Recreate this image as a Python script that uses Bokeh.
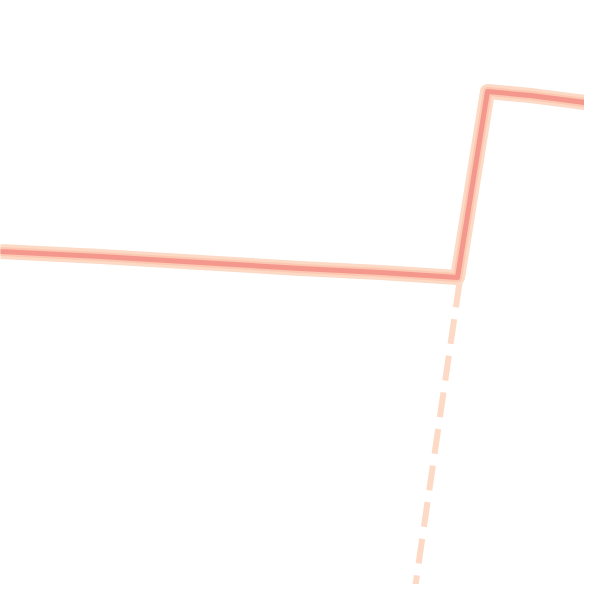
from bokeh.plotting import figure
from bokeh.models import Range1d
from bokeh.embed import file_html
from bokeh.resources import INLINE

# Main series (x position, value)
x_main = [-10, 0, 100, 200, 300, 380, 457, 487, 530, 600, 612]
y_main = [350, 349, 344, 338, 332, 328, 323, 509, 505, 496, 495]

# Dashed drop line
x_drop = [459, 412]
y_drop = [318, -5]

p = figure(width=584, height=584, output_backend="svg", toolbar_location=None,
           x_range=Range1d(0, 584), y_range=Range1d(16, 600),
           min_border=0, background_fill_color="white", border_fill_color="white")
p.outline_line_color = None
p.xaxis.visible = False
p.yaxis.visible = False
p.xgrid.grid_line_color = None
p.ygrid.grid_line_color = None

p.line(x_drop, y_drop, line_color="#fddac5", line_width=6, line_dash="25 12")
p.line(x_main, y_main, line_color="#fddac5", line_width=15, line_join="round")
p.line(x_main, y_main, line_color="#fbc3ad", line_width=9, line_join="round", line_alpha=0.8)
p.line(x_main, y_main, line_color="#f4978d", line_width=5, line_join="round")

open("out.html", "w").write(file_html(p, INLINE))
